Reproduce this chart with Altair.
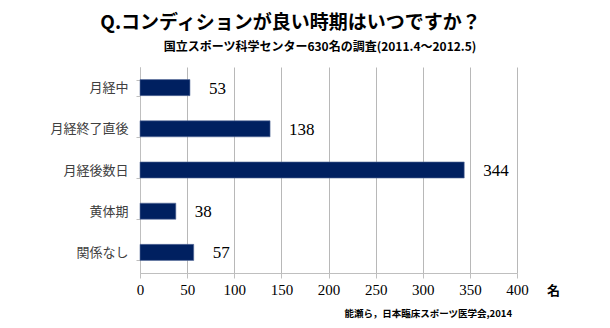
import altair as alt
import pandas as pd

categories = ["月経中", "月経終了直後", "月経後数日", "黄体期", "関係なし"]
values = [53, 138, 344, 38, 57]
x_ticks = [0, 50, 100, 150, 200, 250, 300, 350, 400]

title_text = "Q.コンディションが良い時期はいつですか？"
subtitle_text = "国立スポーツ科学センター630名の調査(2011.4～2012.5)"
source_text = "能瀬ら，日本臨床スポーツ医学会,2014"
unit_text = "名"

df = pd.DataFrame({"cat": categories, "val": values})

JP = "Noto Sans CJK JP"
SERIF = "Liberation Serif"

base = alt.Chart(df).encode(
    y=alt.Y(
        "cat:N",
        sort=categories,
        scale=alt.Scale(paddingInner=0.61, paddingOuter=0.305),
        axis=alt.Axis(
            title=None,
            labelFont=JP,
            labelFontSize=13,
            labelColor="#404040",
            labelPadding=8,
            tickSize=4,
            tickColor="#bfbfbf",
            domainColor="#bfbfbf",
            tickBand="extent",
            grid=False,
        ),
    ),
    x=alt.X(
        "val:Q",
        scale=alt.Scale(domain=[0, 400], nice=False),
        axis=alt.Axis(
            values=x_ticks,
            title=unit_text,
            titleFont=JP,
            titleFontSize=13,
            titleFontWeight="bold",
            titleColor="#000000",
            titleX=413,
            titleY=17,
            titleAlign="center",
            titleBaseline="middle",
            labelFont=SERIF,
            labelFontSize=15,
            labelColor="#000000",
            labelPadding=4,
            tickSize=5,
            tickColor="#bfbfbf",
            domainColor="#bfbfbf",
            gridColor="#b8b8b8",
            grid=True,
            labelFlush=False,
        ),
    ),
)

bars = base.mark_bar(color="#002060", stroke="#5a6f9c", strokeWidth=0.6)
labels = base.mark_text(
    align="left", baseline="middle", dx=19, dy=1, font=SERIF, fontSize=17, color="#000000"
).encode(text="val:Q")

subtitle = alt.Chart(pd.DataFrame({"t": [subtitle_text]})).mark_text(
    font=JP, fontSize=12, fontWeight="bold", align="center", baseline="middle", color="#000000"
).encode(x=alt.value(180), y=alt.value(-20), text="t:N")

source = alt.Chart(pd.DataFrame({"t": [source_text]})).mark_text(
    font=JP, fontSize=9.5, fontWeight="bold", align="right", baseline="middle", color="#000000"
).encode(x=alt.value(372), y=alt.value(247), text="t:N")

chart = (
    alt.layer(bars, labels, subtitle, source)
    .properties(
        width=377,
        height=206,
        autosize="none",
        padding={"left": 140, "top": 67, "right": 93, "bottom": 55},
        background="white",
        title=alt.TitleParams(
            title_text,
            font=JP,
            fontSize=19,
            fontWeight="bold",
            color="#000000",
            anchor="middle",
            frame="group",
            dx=-38,
            offset=8,
        ),
    )
    .configure_view(stroke=None)
)

chart.save("out.html", embed_options={"renderer": "svg", "actions": False})
